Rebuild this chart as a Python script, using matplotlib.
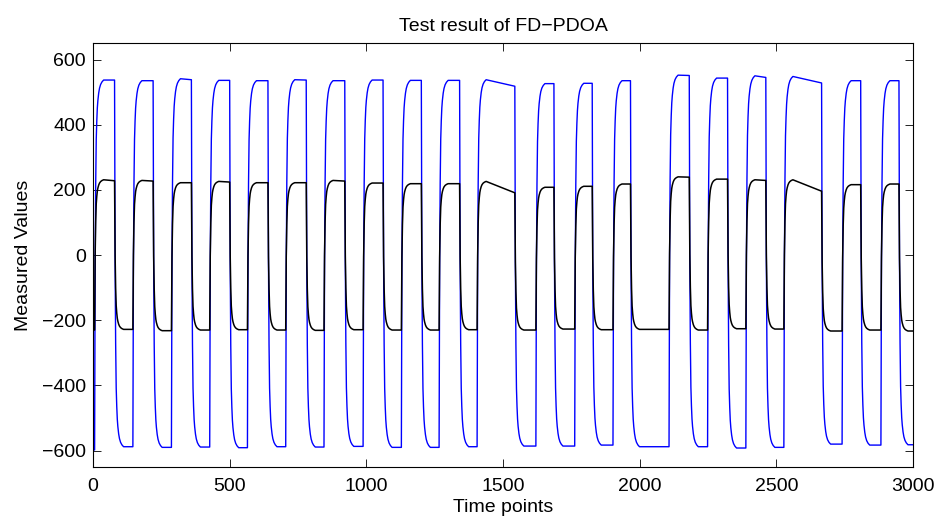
import numpy as np
import matplotlib
matplotlib.use("Agg")
from matplotlib import pyplot as plt

plt.rcParams['font.family'] = ['Liberation Sans', 'DejaVu Sans']
plt.rcParams['font.size'] = 14
plt.rcParams['axes.unicode_minus'] = True

# switching times (time points where each pulse starts / ends)
on_times = [6, 146, 287, 427, 565, 705, 845, 988, 1128, 1266,
            1405, 1620, 1762, 1902, 2107, 2248, 2388, 2527, 2740, 2882]
off_times = [79, 220, 360, 500, 640, 780, 921, 1061, 1201, 1341,
             1543, 1686, 1826, 1966, 2181, 2321, 2461, 2665, 2808, 2948]

# blue trace: level at start / end of each high pulse, and the low levels between pulses
blue_high_start = [537, 535, 541, 536, 535, 538, 535, 537, 536, 536,
                   538, 526, 527, 535, 552, 543, 550, 548, 535, 535]
blue_high_end = [537, 535, 538, 536, 535, 537, 535, 537, 536, 536,
                 518, 526, 527, 535, 551, 543, 545, 528, 535, 535]
blue_low = [-598, -588, -590, -589, -591, -588, -589, -587, -590, -590, -588,
            -586, -586, -583, -588, -588, -592, -590, -580, -583, -582]

# black trace
black_high_start = [231, 229, 222, 226, 222, 222, 229, 221, 219, 219,
                    226, 208, 211, 218, 240, 233, 231, 231, 216, 218]
black_high_end = [228, 227, 222, 224, 222, 222, 227, 221, 219, 219,
                  191, 208, 211, 218, 239, 233, 229, 196, 216, 218]
black_low = [-230, -228, -232, -230, -229, -230, -231, -229, -230, -230, -229,
             -230, -227, -229, -228, -230, -226, -227, -233, -230, -233]

t_end = 3000

# step response shape used at every switching edge
edge_dt = [0, 1, 2, 3, 4, 5, 6, 8, 10, 12, 15, 18, 22, 27, 33]
edge_frac = [0, .30, .50, .63, .72, .79, .84, .89, .925, .945, .965, .978, .988, .995, 1.0]


def build_trace(high_start, high_end, low):
    xs = [0]
    ys = [low[0]]
    prev = low[0]
    for i in range(len(on_times)):
        # rising edge
        t = on_times[i]
        xs.append(t); ys.append(prev)
        for dt, f in zip(edge_dt[1:], edge_frac[1:]):
            xs.append(t + dt); ys.append(prev + f * (high_start[i] - prev))
        # falling edge
        t = off_times[i]
        xs.append(t); ys.append(high_end[i])
        for dt, f in zip(edge_dt[1:], edge_frac[1:]):
            xs.append(t + dt); ys.append(high_end[i] + f * (low[i + 1] - high_end[i]))
        prev = low[i + 1]
    xs.append(t_end); ys.append(prev)
    return np.array(xs), np.array(ys)


bx, by = build_trace(blue_high_start, blue_high_end, blue_low)
kx, ky = build_trace(black_high_start, black_high_end, black_low)

fig = plt.figure(figsize=(9.39, 5.27), dpi=100)
ax = fig.add_axes([0.099, 0.114, 0.8735, 0.804])

ax.plot(bx, by, color=(0, 0, 1), linewidth=1.0)
ax.plot(kx, ky, color='k', linewidth=1.1)

ax.set_xlim(0, 3000)
ax.set_ylim(-650, 650)
ax.set_xticks(np.arange(0, 3001, 500))
ax.set_yticks(np.arange(-600, 601, 200))
ax.tick_params(direction='in', top=True, right=True, length=5.5, width=0.6)
ax.tick_params(axis='x', pad=8)
ax.tick_params(axis='y', pad=5)
for s in ax.spines.values():
    s.set_linewidth(0.8)

ax.set_title('Test result of FD\u2212PDOA', fontsize=14, pad=9)
ax.set_xlabel('Time points', labelpad=3)
ax.set_ylabel('Measured Values', labelpad=7)

fig.savefig('out.png', dpi=100)
